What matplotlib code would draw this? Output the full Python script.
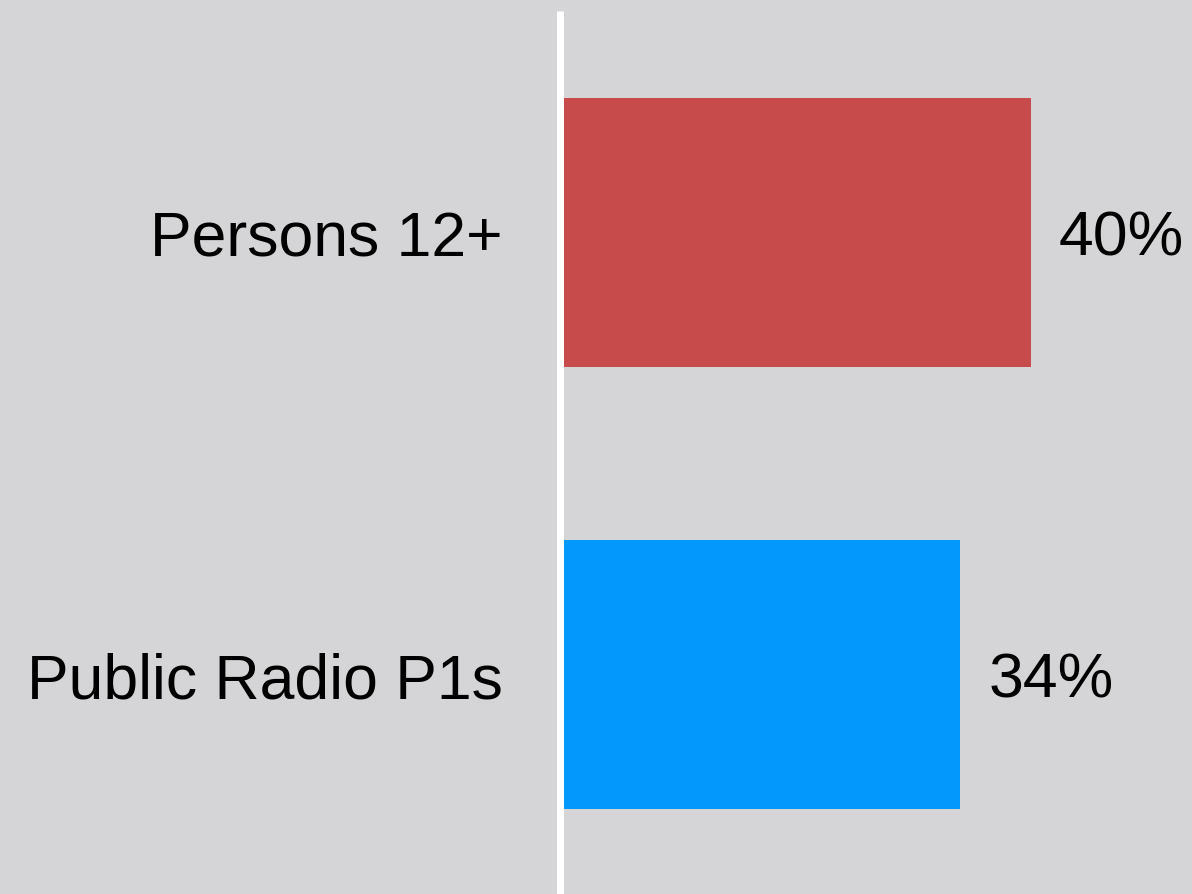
import matplotlib.pyplot as plt

# Share of listeners
categories = ["Public Radio P1s", "Persons 12+"]
values = [34, 40]
colors = ["#0398fc", "#c84b4b"]

bg = "#d5d5d7"
plt.rcParams["font.family"] = ["Liberation Sans", "DejaVu Sans"]

fig = plt.figure(figsize=(11.92, 8.95), dpi=100, facecolor=bg)
ax = fig.add_axes([559.5 / 1192, 0, (1192 - 559.5) / 1192, 883 / 895])
ax.set_facecolor(bg)

ypos = list(range(len(categories)))
bars = ax.barh(ypos, values, height=0.6086, color=colors)

for rect, v in zip(bars, values):
    ax.annotate(f"{v}%", (rect.get_width(), rect.get_y() + rect.get_height() / 2),
                xytext=(20, -4), textcoords="offset points",
                ha="left", va="center", fontsize=45, color="black")

ax.set_xlim(0, 53.65)
ax.set_ylim(-0.4966, 1.501)
ax.set_yticks(ypos)
ax.set_yticklabels(categories, fontsize=45)
ax.tick_params(axis="y", length=0, pad=41)
ax.set_xticks([])

for side in ["top", "right", "bottom"]:
    ax.spines[side].set_visible(False)
ax.spines["left"].set_color("white")
ax.spines["left"].set_linewidth(5.04)
ax.spines["left"].set_capstyle("butt")

fig.savefig("out.png", dpi=100, facecolor=bg)
